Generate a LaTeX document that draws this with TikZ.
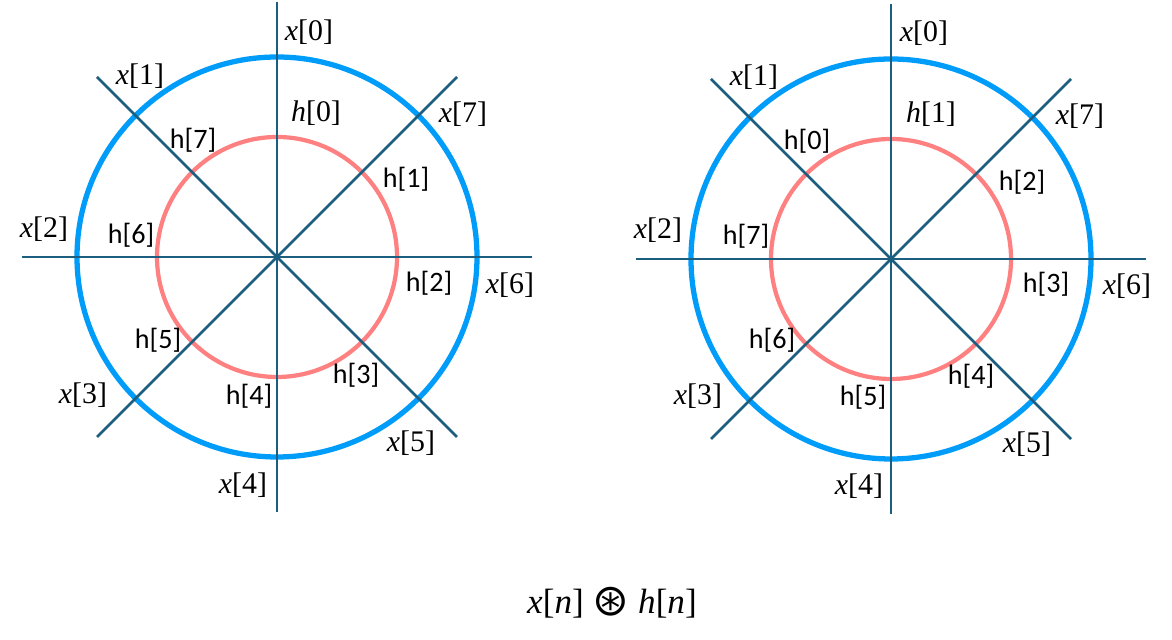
\documentclass[tikz,border=0pt]{standalone}
\usepackage{fontspec}
\newfontfamily\calfont{Carlito}
\newfontfamily\serfont{Liberation Serif}
\newfontfamily\symfont{DejaVu Sans}
\usepackage{tikz}
\usetikzlibrary{calc}

\definecolor{axisteal}{RGB}{27,94,128}
\definecolor{outerblue}{RGB}{0,156,250}
\definecolor{innerred}{RGB}{255,128,128}

\newcommand{\sig}[2]{\textit{#1}[#2]}

\begin{document}
\begin{tikzpicture}[
    axis/.style={draw=axisteal, line width=1.5pt},
    outer/.style={draw=outerblue, line width=3pt},
    inner/.style={draw=innerred, line width=2.4pt},
    xlab/.style={inner sep=0pt, anchor=center, font=\fontsize{17}{20}\selectfont\serfont},
    hlab/.style={inner sep=0pt, anchor=center, font=\fontsize{16}{19}\selectfont\calfont}
]
\useasboundingbox (0,0) rectangle (23.44,12.8);
\fill[white] (0,0) rectangle (23.44,12.8);

% Centres of the two wheels
\coordinate (cL) at (5.54,7.66);
\coordinate (cR) at (17.82,7.62);

% Left wheel
\draw[outer] (cL) circle (4);
\draw[inner] (cL) circle (2.4);
\draw[axis] ($(cL)+(0,5.1)$) -- ($(cL)+(0,-5.1)$);
\draw[axis] ($(cL)+(-5.1,0)$) -- ($(cL)+(5.1,0)$);
\draw[axis] ($(cL)+(-3.6,3.6)$) -- ($(cL)+(3.6,-3.6)$);
\draw[axis] ($(cL)+(-3.6,-3.6)$) -- ($(cL)+(3.6,3.6)$);

\node[xlab] (lx0) at (6.18,12.16) {\sig{x}{0}};
\node[xlab] (lx1) at (2.80,11.28) {\sig{x}{1}};
\node[xlab] (lx2) at (0.88,8.22) {\sig{x}{2}};
\node[xlab] (lx3) at (1.66,4.90) {\sig{x}{3}};
\node[xlab] (lx4) at (4.86,3.10) {\sig{x}{4}};
\node[xlab] (lx5) at (8.22,3.94) {\sig{x}{5}};
\node[xlab] (lx6) at (10.20,7.10) {\sig{x}{6}};
\node[xlab] (lx7) at (9.26,10.52) {\sig{x}{7}};

\node[xlab] (lh0) at (6.32,10.54) {\sig{h}{0}};
\node[hlab] (lh1) at (8.12,9.22) {h[1]};
\node[hlab] (lh2) at (8.58,7.14) {h[2]};
\node[hlab] (lh3) at (7.12,5.30) {h[3]};
\node[hlab] (lh4) at (4.98,4.88) {h[4]};
\node[hlab] (lh5) at (3.16,6.00) {h[5]};
\node[hlab] (lh6) at (2.62,8.10) {h[6]};
\node[hlab] (lh7) at (3.86,10.00) {h[7]};

% Right wheel
\draw[outer] (cR) circle (4);
\draw[inner] (cR) circle (2.4);
\draw[axis] ($(cR)+(0,5.1)$) -- ($(cR)+(0,-5.1)$);
\draw[axis] ($(cR)+(-5.1,0)$) -- ($(cR)+(5.1,0)$);
\draw[axis] ($(cR)+(-3.6,3.6)$) -- ($(cR)+(3.6,-3.6)$);
\draw[axis] ($(cR)+(-3.6,-3.6)$) -- ($(cR)+(3.6,3.6)$);

\node[xlab] (rx0) at (18.48,12.14) {\sig{x}{0}};
\node[xlab] (rx1) at (15.08,11.26) {\sig{x}{1}};
\node[xlab] (rx2) at (13.16,8.20) {\sig{x}{2}};
\node[xlab] (rx3) at (13.96,4.88) {\sig{x}{3}};
\node[xlab] (rx4) at (17.18,3.08) {\sig{x}{4}};
\node[xlab] (rx5) at (20.54,3.92) {\sig{x}{5}};
\node[xlab] (rx6) at (22.54,7.08) {\sig{x}{6}};
\node[xlab] (rx7) at (21.60,10.48) {\sig{x}{7}};

\node[hlab] (rh0) at (16.14,9.98) {h[0]};
\node[xlab] (rh1) at (18.62,10.52) {\sig{h}{1}};
\node[hlab] (rh2) at (20.44,9.16) {h[2]};
\node[hlab] (rh3) at (20.92,7.12) {h[3]};
\node[hlab] (rh4) at (19.42,5.28) {h[4]};
\node[hlab] (rh5) at (17.26,4.86) {h[5]};
\node[hlab] (rh6) at (15.44,6.00) {h[6]};
\node[hlab] (rh7) at (14.92,8.08) {h[7]};

% Caption
\node[xlab, font=\fontsize{20}{24}\selectfont\serfont] (conv) at (12.24,0.74)
    {\sig{x}{\textit{n}}\ {\symfont\fontsize{25}{28}\selectfont\raisebox{-0.1ex}{⊛}}\ \sig{h}{\textit{n}}};

\end{tikzpicture}
\end{document}
